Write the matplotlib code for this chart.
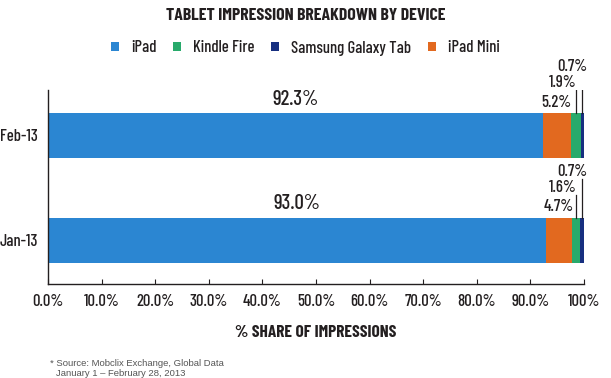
import matplotlib
matplotlib.use('Agg')
import matplotlib.pyplot as plt
from matplotlib.patches import Patch

months = ['Jan-13', 'Feb-13']
devices = ['iPad', 'iPad Mini', 'Kindle Fire', 'Samsung Galaxy Tab']
shares = {
    'iPad': [93.0, 92.3],
    'iPad Mini': [4.7, 5.2],
    'Kindle Fire': [1.6, 1.9],
    'Samsung Galaxy Tab': [0.7, 0.7],
}
colors = {
    'iPad': '#2b86d2',
    'iPad Mini': '#e2691f',
    'Kindle Fire': '#28aa6b',
    'Samsung Galaxy Tab': '#172f80',
}
legend_order = ['iPad', 'Kindle Fire', 'Samsung Galaxy Tab', 'iPad Mini']
xticks = [0, 10, 20, 30, 40, 50, 60, 70, 80, 90, 100]
xticklabels = ['0.0%', '10.0%', '20.0%', '30.0%', '40.0%', '50.0%',
               '60.0%', '70.0%', '80.0%', '90.0%', '100%']

plt.rcParams['font.family'] = ['Barlow Condensed', 'DejaVu Sans']
plt.rcParams['font.weight'] = 500
dark = '#231f20'

fig = plt.figure(figsize=(6.11, 3.78), dpi=100)
ax = fig.add_axes([48/611, 1-284/378, 536/611, 194/378])

ypos = [0, 1]
left = [0.0, 0.0]
for d in devices:
    ax.barh(ypos, shares[d], left=left, height=0.43, color=colors[d], linewidth=0)
    left = [l + v for l, v in zip(left, shares[d])]

ax.set_xlim(0, 100)
ax.set_ylim(-0.42, 1.435)
ax.set_yticks(ypos)
ax.set_yticklabels(months, fontsize=12, color=dark)
ax.tick_params(axis='y', length=0, pad=7)
ax.set_xticks(xticks)
ax.set_xticklabels(xticklabels, fontsize=12, color=dark)
ax.tick_params(axis='x', direction='in', length=3.5, pad=7, color=dark)
for s in ['top', 'right']:
    ax.spines[s].set_visible(False)
for s in ['left', 'bottom']:
    ax.spines[s].set_color(dark)
    ax.spines[s].set_linewidth(1.0)
ax.set_xlabel('% SHARE OF IMPRESSIONS', fontsize=12.5, fontweight='bold',
              color=dark, labelpad=12)

# value labels
for i, y in enumerate(ypos):
    ip = shares['iPad'][i]
    mini = shares['iPad Mini'][i]
    kin = shares['Kindle Fire'][i]
    sam = shares['Samsung Galaxy Tab'][i]
    top = y + 0.215
    ax.text(ip / 2, y + 0.345, f'{ip:.1f}%', ha='center', va='center',
            fontsize=15, color=dark)
    ax.text(ip + mini / 2, top + 0.105, f'{mini:.1f}%', ha='center', va='center',
            fontsize=12, color=dark)
    xk = ip + mini + kin / 2
    ax.plot([xk, xk], [top, top + 0.22], color=dark, lw=0.9)
    ax.text(xk + 0.1, top + 0.29, f'{kin:.1f}%', ha='right', va='center',
            fontsize=12, color=dark)
    xs = 100 - sam / 2
    ax.plot([xs, xs], [top, top + 0.37], color=dark, lw=0.9)
    ax.text(xs + 0.95, top + 0.44, f'{sam:.1f}%', ha='right', va='center',
            fontsize=12, color=dark, clip_on=False)

fig.text(0.5, 1 - 16/378, 'TABLET IMPRESSION BREAKDOWN BY DEVICE', ha='center',
         va='center', fontsize=12.8, fontweight='bold', color=dark)

handles = [Patch(facecolor=colors[d], edgecolor='none') for d in legend_order]
fig.legend(handles, legend_order, loc='center', bbox_to_anchor=(0.5, 1 - 48/378),
           ncol=4, frameon=False, fontsize=12, handlelength=0.45, handleheight=0.45,
           handletextpad=0.75, columnspacing=1.0, labelcolor=dark)

foot = ['Liberation Sans', 'DejaVu Sans']
fig.text(50/611, 1 - 363/378, '* Source: Mobclix Exchange, Global Data',
         fontsize=6.8, color='#555555', va='center', family=foot, fontweight='normal')
fig.text(56/611, 1 - 373/378, 'January 1 \u2013 February 28, 2013',
         fontsize=6.8, color='#555555', va='center', family=foot, fontweight='normal')

fig.savefig('out.png', dpi=100)
